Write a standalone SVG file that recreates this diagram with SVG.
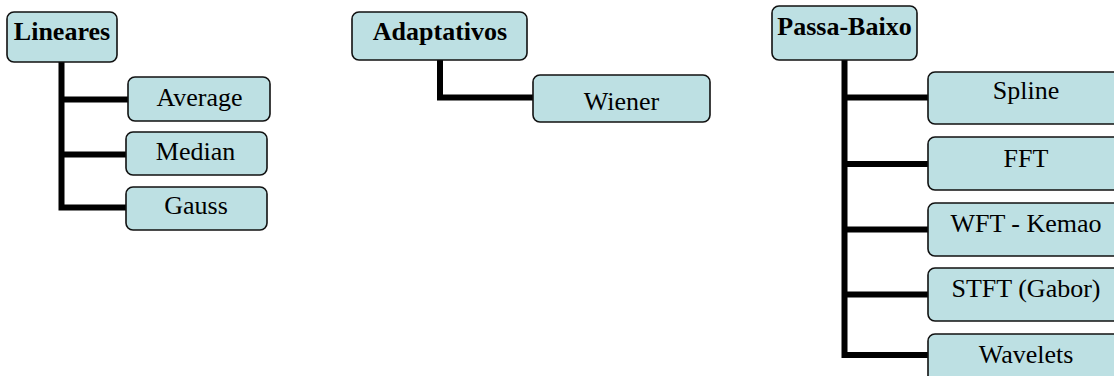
<svg xmlns="http://www.w3.org/2000/svg" width="1114" height="376" viewBox="0 0 1114 376">
<style>
.box{fill:#BDE0E3;stroke:#111;stroke-width:1.6}
.t{font-family:"Liberation Serif","Times New Roman",serif;font-size:26px;fill:#000;text-anchor:middle}
.b{font-weight:bold;font-size:26px}
.c{fill:none;stroke:#000;stroke-width:6;stroke-linejoin:miter}
</style>
<rect width="1114" height="376" fill="#fff"/>
<g id="connectors">
<path class="c" d="M61.5,62 V207.5 H126 M61.5,99.5 H128 M61.5,154.5 H126"/>
<path class="c" d="M440,60 V97.5 H533"/>
<path class="c" d="M844.5,60 V355 H928 M844.5,97.5 H928 M844.5,164 H928 M844.5,229.5 H928 M844.5,294.5 H928"/>
</g>
<g id="lineares"><rect class="box" x="7" y="12" width="110" height="50" rx="7"/><text class="t b" x="62" y="40">Lineares</text></g>
<g id="average"><rect class="box" x="128" y="77" width="142" height="44" rx="7"/><text class="t" x="199.5" y="106">Average</text></g>
<g id="median"><rect class="box" x="126" y="132" width="141" height="43" rx="7"/><text class="t" x="195.5" y="160">Median</text></g>
<g id="gauss"><rect class="box" x="126" y="187" width="141" height="43" rx="7"/><text class="t" x="196" y="214">Gauss</text></g>
<g id="adaptativos"><rect class="box" x="352" y="12" width="175" height="48" rx="7"/><text class="t b" x="440" y="40">Adaptativos</text></g>
<g id="wiener"><rect class="box" x="533" y="75" width="177" height="47" rx="7"/><text class="t" x="621.5" y="110">Wiener</text></g>
<g id="passabaixo"><rect class="box" x="772" y="6" width="145" height="54" rx="7"/><text class="t b" x="844.5" y="35">Passa-Baixo</text></g>
<g id="spline"><rect class="box" x="928" y="72" width="196" height="52" rx="7"/><text class="t" x="1026" y="99">Spline</text></g>
<g id="fft"><rect class="box" x="928" y="137" width="196" height="53" rx="7"/><text class="t" x="1026" y="167">FFT</text></g>
<g id="wft"><rect class="box" x="928" y="203" width="196" height="53" rx="7"/><text class="t" x="1026" y="232">WFT - Kemao</text></g>
<g id="stft"><rect class="box" x="928" y="268" width="196" height="53" rx="7"/><text class="t" x="1026" y="297">STFT (Gabor)</text></g>
<g id="wavelets"><rect class="box" x="928" y="334" width="196" height="53" rx="7"/><text class="t" x="1026" y="363">Wavelets</text></g>
</svg>
